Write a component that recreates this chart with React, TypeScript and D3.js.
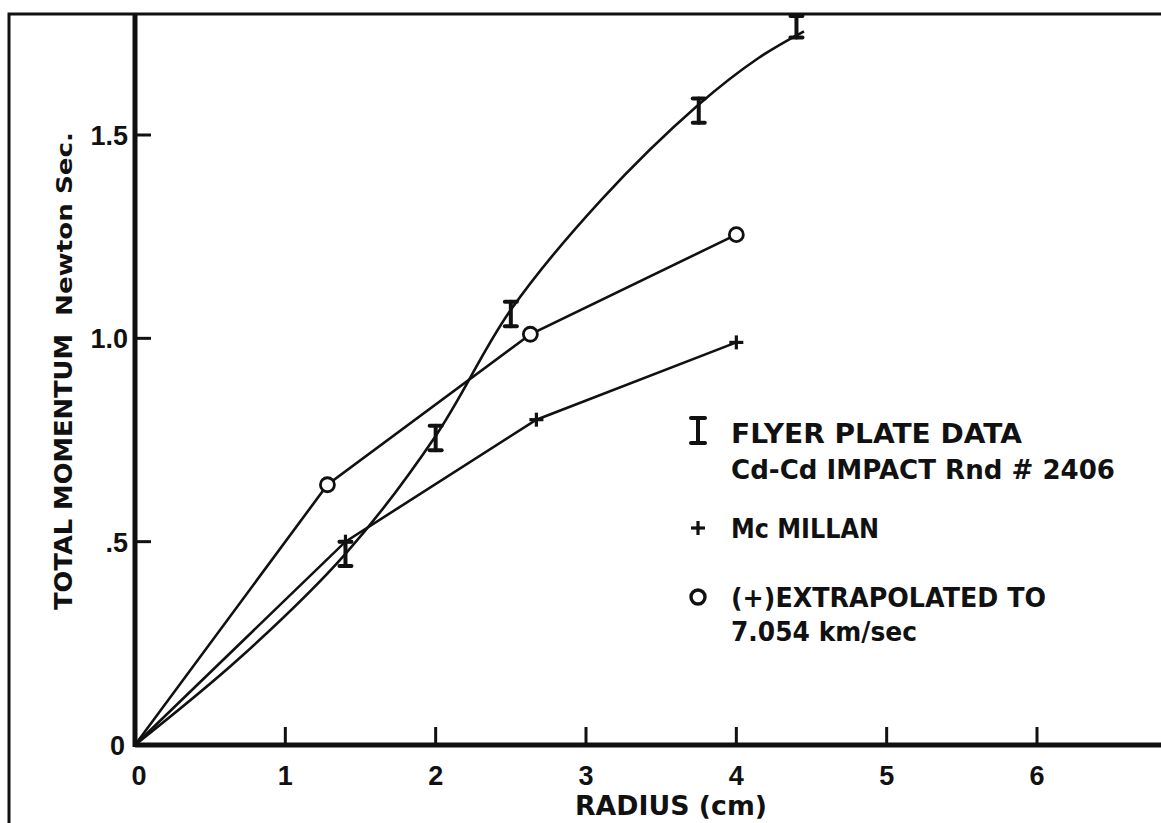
import React, { useRef, useEffect } from 'react';
import * as d3 from 'd3';

// Flyer plate data (error bars), Cd-Cd impact Rnd #2406
const flyerRadius = [1.4, 2.0, 2.5, 3.75, 4.4];
const flyerMomentum = [0.47, 0.755, 1.06, 1.56, 1.77];
const flyerError = [0.03, 0.03, 0.03, 0.03, 0.03];

// hand-drawn fit through the flyer plate data
const fitRadius = [0, 0.7, 1.4, 2.0, 2.5, 3.1, 3.75, 4.15, 4.45];
const fitMomentum = [0, 0.215, 0.47, 0.76, 1.07, 1.34, 1.575, 1.69, 1.755];

// McMillan (+)
const mcmillanRadius = [0, 1.4, 2.67, 4.0];
const mcmillanMomentum = [0, 0.5, 0.8, 0.99];

// (+) extrapolated to 7.054 km/sec (o)
const extrapRadius = [0, 1.28, 2.63, 4.0];
const extrapMomentum = [0, 0.64, 1.01, 1.255];

const xTicks = [0, 1, 2, 3, 4, 5, 6];
const yTicks = [0, 0.5, 1.0, 1.5];
const yTickLabels = ['0', '.5', '1.0', '1.5'];

const W = 1161;
const H = 823;
const FONT = '"DejaVu Sans", sans-serif';
const NUMFONT = '"Liberation Sans", Arial, sans-serif';
const INK = '#111';

const MomentumChart = () => {
  const svgRef = useRef<SVGSVGElement>(null);

  useEffect(() => {
    const svg = d3.select(svgRef.current);
    svg.selectAll('*').remove();

    const x = d3.scaleLinear().domain([0, 6]).range([135, 1037]);
    const y = d3.scaleLinear().domain([0, 1.5]).range([745, 135]);

    svg.append('rect').attr('width', W).attr('height', H).attr('fill', '#fff');

    // outer frame
    svg.append('path')
      .attr('d', `M9,${H} L9,14 L${W},14`)
      .attr('fill', 'none').attr('stroke', INK).attr('stroke-width', 3);

    // axes
    svg.append('line')
      .attr('x1', x(0)).attr('x2', W).attr('y1', y(0)).attr('y2', y(0))
      .attr('stroke', INK).attr('stroke-width', 5);
    svg.append('line')
      .attr('x1', x(0)).attr('x2', x(0)).attr('y1', 14).attr('y2', y(0) + 2)
      .attr('stroke', INK).attr('stroke-width', 5);

    // x ticks
    xTicks.slice(1).forEach(t => {
      svg.append('line')
        .attr('x1', x(t)).attr('x2', x(t)).attr('y1', y(0)).attr('y2', y(0) - 18)
        .attr('stroke', INK).attr('stroke-width', 3);
    });
    svg.selectAll('.xlab').data(xTicks).enter().append('text')
      .attr('x', d => x(d) + (d === 0 ? 4 : 0))
      .attr('y', y(0) + 40)
      .attr('text-anchor', 'middle')
      .style('font-family', NUMFONT).style('font-size', '27px').style('font-weight', 'bold')
      .attr('fill', INK)
      .text(d => String(d));

    // y ticks
    yTicks.slice(1).forEach(t => {
      svg.append('line')
        .attr('x1', x(0)).attr('x2', x(0) + 16).attr('y1', y(t)).attr('y2', y(t))
        .attr('stroke', INK).attr('stroke-width', 3);
    });
    svg.selectAll('.ylab').data(yTicks).enter().append('text')
      .attr('x', (d, i) => (i === 0 ? x(0) - 10 : x(0) - 7))
      .attr('y', d => y(d) + 10)
      .attr('text-anchor', 'end')
      .style('font-family', NUMFONT).style('font-size', '27px').style('font-weight', 'bold')
      .attr('fill', INK)
      .text((d, i) => yTickLabels[i]);

    // axis titles
    svg.append('text')
      .attr('x', 575).attr('y', 815)
      .attr('textLength', 192).attr('lengthAdjust', 'spacingAndGlyphs')
      .style('font-family', FONT).style('font-size', '26px').style('font-weight', 'bold')
      .attr('fill', INK)
      .text('RADIUS (cm)');

    svg.append('text')
      .attr('transform', 'translate(72, 610) rotate(-90)')
      .attr('textLength', 276).attr('lengthAdjust', 'spacingAndGlyphs')
      .style('font-family', FONT).style('font-weight', 'bold').style('font-size', '25px')
      .attr('fill', INK)
      .text('TOTAL MOMENTUM');
    svg.append('text')
      .attr('transform', 'translate(72, 316) rotate(-90)')
      .attr('textLength', 184).attr('lengthAdjust', 'spacingAndGlyphs')
      .style('font-family', FONT).style('font-weight', 'bold').style('font-size', '21px')
      .attr('fill', INK)
      .text('Newton Sec.');

    const lineStyle = (p: any) => p.attr('fill', 'none').attr('stroke', INK).attr('stroke-width', 2.6);
    const toPts = (rs: number[], ms: number[]) => rs.map((r, i) => [r, ms[i]] as [number, number]);
    const straight = d3.line<[number, number]>().x(d => x(d[0])).y(d => y(d[1]));
    const smooth = d3.line<[number, number]>().x(d => x(d[0])).y(d => y(d[1])).curve(d3.curveCatmullRom.alpha(0.5));

    // flyer plate curve
    svg.append('path').attr('d', smooth(toPts(fitRadius, fitMomentum))).call(lineStyle);
    // McMillan line
    svg.append('path').attr('d', straight(toPts(mcmillanRadius, mcmillanMomentum))).call(lineStyle);
    // extrapolated line
    svg.append('path').attr('d', straight(toPts(extrapRadius, extrapMomentum))).call(lineStyle);

    // error bar markers
    const drawBar = (cx: number, cy0: number, cy1: number, cap: number) => {
      const g = svg.append('g').attr('stroke', INK).attr('stroke-width', 4).attr('stroke-linecap', 'round');
      g.append('line').attr('x1', cx).attr('x2', cx).attr('y1', cy0).attr('y2', cy1);
      g.append('line').attr('x1', cx - cap).attr('x2', cx + cap).attr('y1', cy0).attr('y2', cy0);
      g.append('line').attr('x1', cx - cap).attr('x2', cx + cap).attr('y1', cy1).attr('y2', cy1);
    };
    flyerRadius.forEach((r, i) => {
      drawBar(x(r), Math.max(16, y(flyerMomentum[i] + flyerError[i])), y(flyerMomentum[i] - flyerError[i]), 6);
    });

    const drawPlus = (cx: number, cy: number, s: number) => {
      const g = svg.append('g').attr('stroke', INK).attr('stroke-width', 3.2);
      g.append('line').attr('x1', cx - s).attr('x2', cx + s).attr('y1', cy).attr('y2', cy);
      g.append('line').attr('x1', cx).attr('x2', cx).attr('y1', cy - s).attr('y2', cy + s);
    };
    mcmillanRadius.forEach((r, i) => {
      if (r === 0) return;
      drawPlus(x(r), y(mcmillanMomentum[i]), 7);
    });

    extrapRadius.forEach((r, i) => {
      if (r === 0) return;
      svg.append('circle')
        .attr('cx', x(r)).attr('cy', y(extrapMomentum[i])).attr('r', 7)
        .attr('fill', '#fff').attr('stroke', INK).attr('stroke-width', 2.8);
    });

    // legend
    const lx = 698;
    const tx = 731;
    const legText = (yy: number, s: string, len: number) => svg.append('text')
      .attr('x', tx).attr('y', yy)
      .attr('textLength', len).attr('lengthAdjust', 'spacingAndGlyphs')
      .style('font-family', FONT).style('font-size', '26px').style('font-weight', 'bold')
      .attr('fill', INK)
      .text(s);

    drawBar(lx, 418, 443, 7);
    legText(443, 'FLYER PLATE DATA', 291);
    legText(479, 'Cd-Cd IMPACT Rnd # 2406', 384);
    drawPlus(lx, 528, 7);
    legText(538, 'Mc MILLAN', 148);
    svg.append('circle').attr('cx', lx).attr('cy', 597).attr('r', 7)
      .attr('fill', '#fff').attr('stroke', INK).attr('stroke-width', 3.4);
    legText(607, '(+)EXTRAPOLATED TO', 315);
    legText(641, '7.054 km/sec', 186);
  }, []);

  return (
    <svg
      ref={svgRef}
      width={W}
      height={H}
      style={{ position: 'absolute', left: 0, top: 0 }}
    />
  );
};

export default function App() {
  return <MomentumChart />;
}
